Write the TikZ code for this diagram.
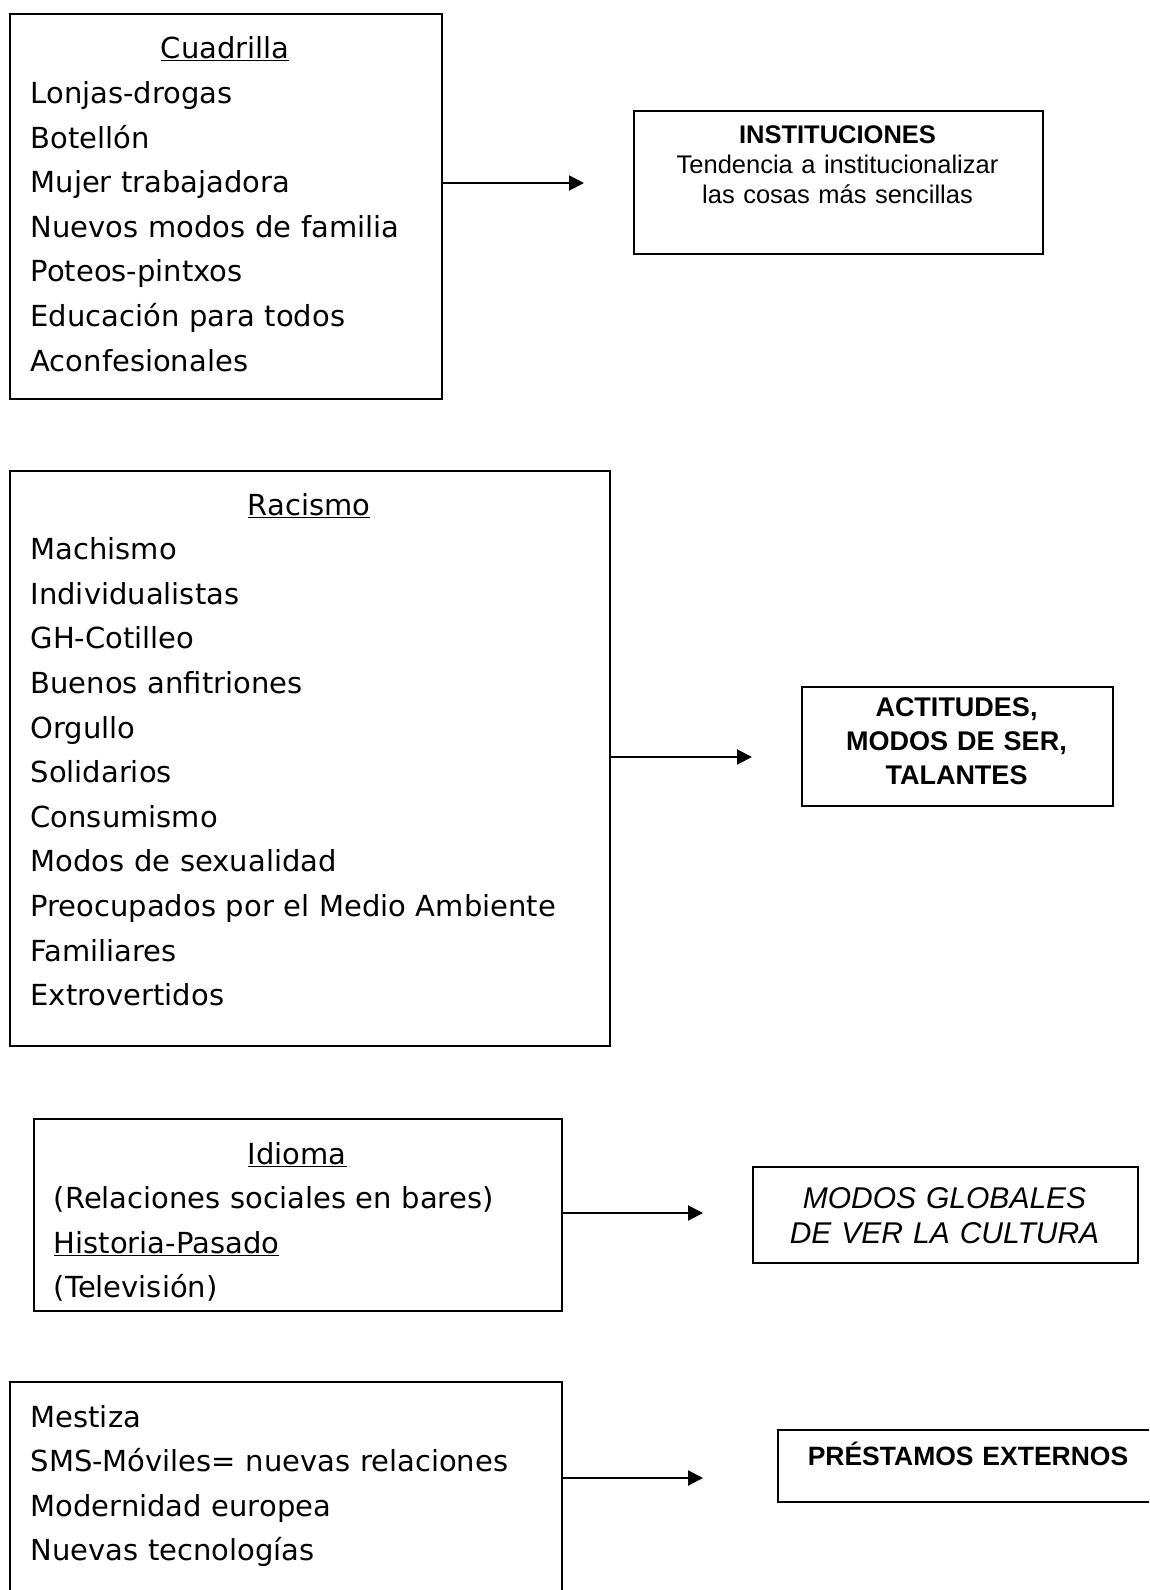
\documentclass[tikz,border=0pt]{standalone}
\usepackage{fontspec}
\setmainfont{DejaVu Sans}
\newfontfamily\arialfont{Liberation Sans}
\usepackage{tikz}
\usetikzlibrary{arrows.meta,positioning}

\begin{document}
\begin{tikzpicture}[
    x=1pt, y=-1pt,
    listbox/.style={draw, line width=2pt, anchor=north west, inner sep=0pt},
    listtext/.style={anchor=base west, align=left, inner sep=0pt, font=\fontsize{29}{44.6}\selectfont},
    headtext/.style={anchor=base, align=center, inner sep=0pt, text width=370pt},
    arr/.style={-{Triangle[length=15pt,width=15pt]}, line width=2pt}
]
\clip (0,0) rectangle (1149,1590);
\fill[white] (0,0) rectangle (1149,1590);

\node[listbox, minimum width=432pt, minimum height=385pt] (cuad) at (9,13) {};
\node[listtext, text width=389pt] (cuadlist) at (30.4,58.8) {\makebox[\linewidth]{\underline{Cuadrilla}}\\
Lonjas-drogas\\ Botellón\\ Mujer trabajadora\\ Nuevos modos de familia\\ Poteos-pintxos\\ Educación para todos\\ Aconfesionales};

\node[listbox, minimum width=409pt, minimum height=143pt] (inst) at (633,110) {};
\node[headtext, font=\arialfont\fontsize{25.5}{30.4}\selectfont] (insttext) at (837.5,143) {\textbf{INSTITUCIONES}\\ Tendencia a institucionalizar\\ las cosas más sencillas};

\node[listbox, minimum width=600pt, minimum height=575pt] (racis) at (9,470) {};
\node[listtext, text width=557pt] (racislist) at (30.4,515) {\makebox[\linewidth]{\underline{Racismo}}\\
Machismo\\ Individualistas\\ GH-Cotilleo\\ Buenos anfitriones\\ Orgullo\\ Solidarios\\ Consumismo\\ Modos de sexualidad\\ Preocupados por el Medio Ambiente\\ Familiares\\ Extrovertidos};

\node[listbox, minimum width=311pt, minimum height=119pt] (acti) at (801,686) {};
\node[headtext, font=\arialfont\bfseries\fontsize{27}{34}\selectfont] (actitext) at (956.5,716) {ACTITUDES,\\ MODOS DE SER,\\ TALANTES};

\node[listbox, minimum width=528pt, minimum height=192pt] (idio) at (33,1118) {};
\node[listtext, text width=486.6pt] (idiolist) at (53.7,1164) {\makebox[\linewidth]{\underline{Idioma}}\\
(Relaciones sociales en bares)\\ \underline{Historia-Pasado}\\ (Televisión)};

\node[listbox, minimum width=385pt, minimum height=96pt] (glob) at (752,1166) {};
\node[headtext, font=\arialfont\itshape\fontsize{30}{35.5}\selectfont] (globtext) at (944.5,1208) {MODOS GLOBALES\\ DE VER LA CULTURA};

\node[listbox, minimum width=552pt, minimum height=230pt] (mest) at (9,1381) {};
\node[listtext, text width=520pt] (mestlist) at (30.4,1427) {Mestiza\\ SMS-Móviles= nuevas relaciones\\ Modernidad europea\\ Nuevas tecnologías};

\node[listbox, minimum width=382pt, minimum height=72pt] (prest) at (777,1429) {};
\node[headtext, font=\arialfont\bfseries\fontsize{26.5}{30}\selectfont] (presttext) at (968,1465) {PRÉSTAMOS EXTERNOS};

\coordinate (a1) at (584,183);
\coordinate (a2) at (752,757);
\coordinate (a3) at (703,1213);
\coordinate (a4) at (703,1478);
\draw[arr] (cuad.east |- a1) -- (a1);
\draw[arr] (racis.east |- a2) -- (a2);
\draw[arr] (idio.east |- a3) -- (a3);
\draw[arr] (mest.east |- a4) -- (a4);
\end{tikzpicture}
\end{document}
